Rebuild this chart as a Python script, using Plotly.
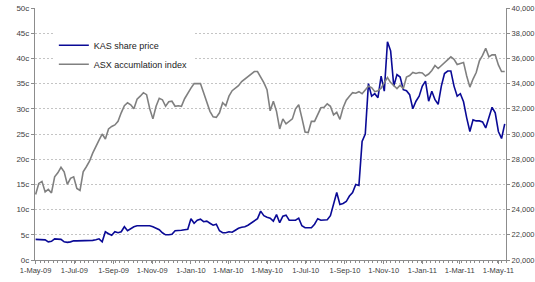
import pandas as pd
import plotly.graph_objects as go

# Sampling dates (every 5 days from 1-May-09)
dates = pd.date_range("2009-05-01", periods=149, freq="5D")

# KAS share price (cents)
kas_price = [
    4.1, 4.1, 4.1, 4.0, 3.6, 3.7, 4.2, 4.1, 4.1, 3.6,
    3.5, 3.6, 3.8, 3.8, 3.8, 3.8, 3.8, 3.9, 3.9, 4.0,
    4.2, 3.6, 5.6, 5.2, 4.9, 5.6, 5.4, 5.6, 6.6, 5.8,
    6.2, 6.6, 6.8, 6.8, 6.8, 6.9, 6.8, 6.6, 6.3, 6.0,
    5.4, 5.0, 5.0, 5.1, 5.8, 5.8, 5.9, 6.0, 6.1, 8.2,
    7.3, 7.9, 8.1, 7.6, 7.7, 7.3, 6.9, 7.1, 5.8, 5.4,
    5.4, 5.6, 5.5, 5.9, 6.3, 6.5, 6.6, 6.9, 7.3, 7.7,
    8.2, 9.7, 8.8, 8.5, 8.3, 7.7, 9.0, 7.4, 8.7, 8.9,
    7.9, 7.9, 7.9, 8.3, 6.8, 6.4, 6.4, 6.4, 7.1, 8.2,
    7.9, 7.9, 8.0, 8.8, 11.0, 13.4, 11.0, 11.2, 11.6, 12.7,
    13.4, 15.0, 14.8, 23.5, 25.0, 35.0, 32.5, 33.0, 32.2, 36.5,
    33.5, 43.3, 41.5, 34.5, 36.8, 36.3, 33.8, 33.6, 32.8, 30.0,
    31.5, 32.5, 34.5, 35.5, 31.5, 33.5, 31.8, 30.9, 34.5, 37.0,
    37.5, 37.5, 34.5, 32.5, 33.0, 31.4, 28.2, 25.5, 27.8, 27.6,
    27.6, 27.4, 26.2, 28.5, 30.3, 29.2, 25.5, 24.1, 27.0,
]

# ASX accumulation index
asx_index = [
    25200, 26080, 26240, 25400, 25600, 25320, 26600, 26920, 27360, 27000,
    26000, 26480, 26600, 25680, 25520, 27000, 27400, 27840, 28480, 29040,
    29520, 30000, 29600, 30400, 30600, 30720, 31000, 31680, 32240, 32480,
    32320, 32000, 32760, 33000, 33280, 33120, 32000, 31200, 32200, 32840,
    32720, 32200, 32560, 32600, 32200, 32240, 32200, 32800, 33280, 33640,
    34000, 34000, 34000, 33280, 32480, 31800, 31360, 31320, 31680, 32480,
    32240, 33000, 33440, 33640, 33840, 34160, 34360, 34560, 34760, 34960,
    34960, 34560, 34080, 33520, 31840, 32600, 31800, 30400, 31200, 30800,
    31000, 31200, 32000, 32320, 31280, 30160, 30120, 31000, 31000, 31600,
    32080, 32120, 32400, 32200, 31520, 31720, 31160, 32080, 32680, 33000,
    33280, 33240, 33360, 33200, 33520, 33800, 33680, 33360, 33440, 33640,
    34080, 34480, 34080, 33840, 33600, 33880, 33600, 34520, 34640, 34880,
    34800, 34880, 34840, 34600, 34760, 35040, 35440, 35200, 35440, 35720,
    35960, 36120, 35920, 35520, 35600, 35680, 34600, 33720, 34360, 34880,
    35800, 36240, 36800, 36120, 36280, 36280, 35480, 34960, 34960,
]

left_ticks = [0, 5, 10, 15, 20, 25, 30, 35, 40, 45, 50]
left_labels = [f"{v}c" for v in left_ticks]
right_ticks = list(range(20000, 40001, 2000))

FONT = "Liberation Sans Narrow, Arial Narrow, Liberation Sans, sans-serif"
AXIS_COLOR = "#8c8c8c"
TEXT_COLOR = "#404040"

fig = go.Figure()
fig.add_trace(go.Scatter(
    x=dates, y=asx_index, name="ASX accumlation index", yaxis="y2",
    mode="lines", line=dict(color="#808080", width=1.6), legendrank=2,
))
fig.add_trace(go.Scatter(
    x=dates, y=kas_price, name="KAS share price", yaxis="y",
    mode="lines", line=dict(color="#0a0a96", width=1.6), legendrank=1,
))

fig.update_layout(
    width=535, height=282,
    margin=dict(l=35, r=29, t=8, b=22, autoexpand=False),
    paper_bgcolor="white", plot_bgcolor="white",
    font=dict(family=FONT, size=8, color=TEXT_COLOR),
    showlegend=True,
    legend=dict(
        x=0.04, y=0.91, xanchor="left", yanchor="top",
        bgcolor="white", borderwidth=0,
        font=dict(family=FONT, size=9, color="#222222"),
        itemwidth=30, tracegroupgap=0,
    ),
    xaxis=dict(
        type="date", automargin=False,
        range=["2009-04-30", "2011-05-13"],
        tick0="2009-05-01", dtick="M2", tickformat="%-d-%b-%y",
        ticks="outside", ticklen=3, tickcolor=AXIS_COLOR,
        minor=dict(ticks="outside", ticklen=2, dtick=7 * 86400000,
                   tick0="2009-05-01", tickcolor=AXIS_COLOR),
        showline=True, linecolor=AXIS_COLOR, linewidth=1.2,
        showgrid=False, zeroline=False,
        tickfont=dict(size=7.5, color=TEXT_COLOR),
    ),
    yaxis=dict(
        automargin=False,
        range=[0, 50], tickvals=left_ticks, ticktext=left_labels,
        ticks="outside", ticklen=3, tickcolor=AXIS_COLOR,
        showline=True, linecolor=AXIS_COLOR, linewidth=1.2,
        showgrid=True, gridcolor="#c4c4c4", griddash="2px,2px", gridwidth=1,
        zeroline=False, tickfont=dict(size=8, color=TEXT_COLOR),
    ),
    yaxis2=dict(
        automargin=False,
        range=[20000, 40000], tickvals=right_ticks, tickformat=",",
        overlaying="y", side="right",
        ticks="outside", ticklen=3, tickcolor=AXIS_COLOR,
        showline=True, linecolor=AXIS_COLOR, linewidth=1.2,
        showgrid=False, zeroline=False,
        tickfont=dict(size=7.5, color=TEXT_COLOR),
    ),
)

fig.write_html(
    "out.html",
    config={"displayModeBar": False},
    post_script="document.body.style.margin='0';document.body.style.overflow='hidden';",
)
